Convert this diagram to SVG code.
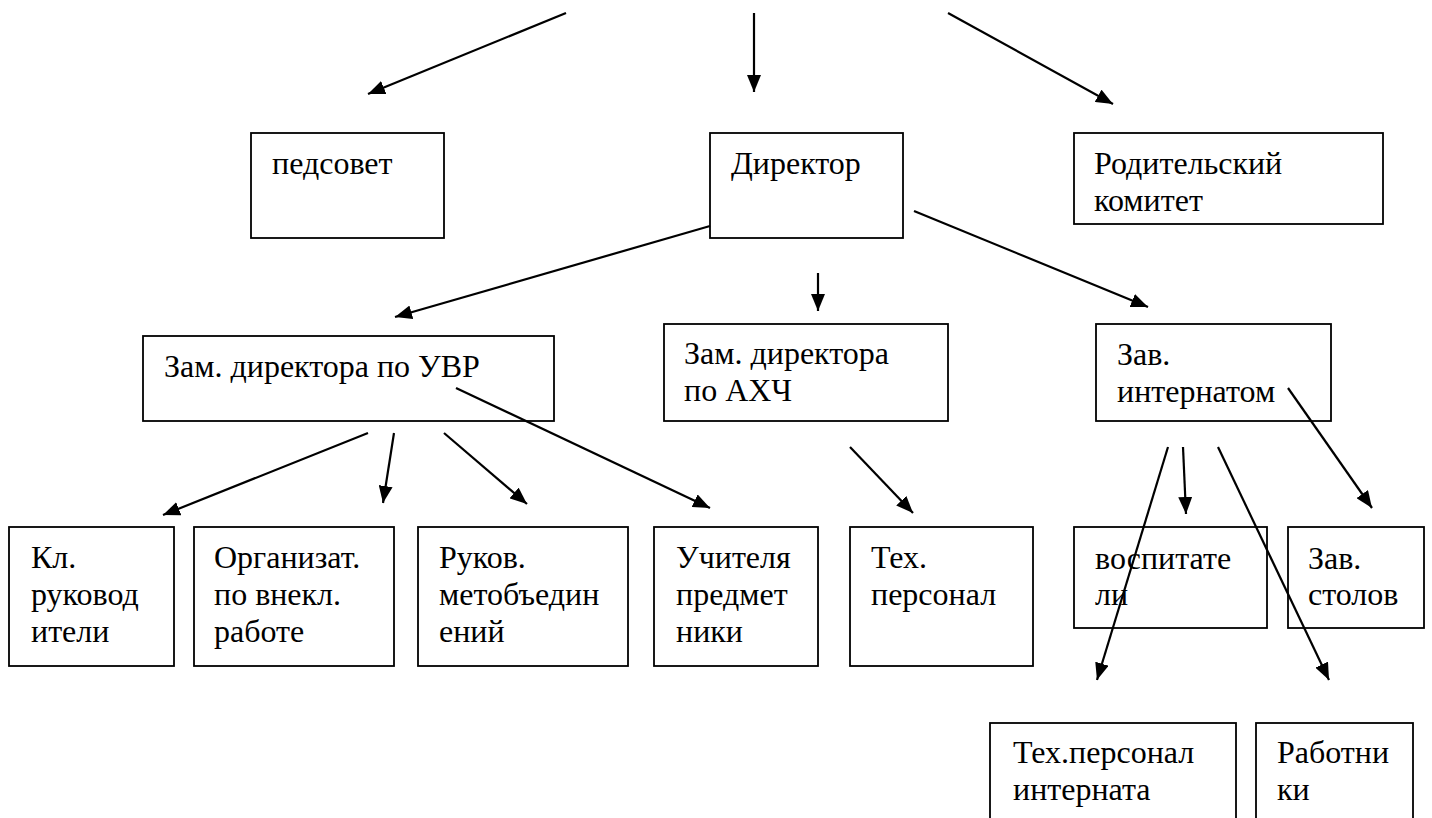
<svg xmlns="http://www.w3.org/2000/svg" width="1432" height="818" viewBox="0 0 1432 818">
<style>
.box{fill:#fff;stroke:#000;stroke-width:1.8}
.t{font-family:"Liberation Serif","Times New Roman",serif;font-size:32px;fill:#000}
.c{stroke:#000;stroke-width:2.2;fill:none;marker-end:url(#ah)}
</style>
<defs>
<marker id="ah" markerUnits="userSpaceOnUse" markerWidth="18" markerHeight="14" refX="17" refY="7" orient="auto" viewBox="0 0 18 14">
<path d="M0,0 L17,7 L0,14 z" fill="#000"/>
</marker>
</defs>
<rect width="1432" height="818" fill="#fff"/>
<g id="n-pedsovet"><rect class="box" x="251" y="133" width="193" height="105"/><text class="t" x="272" y="174">педсовет</text></g>
<g id="n-director"><rect class="box" x="710" y="133" width="193" height="105"/><text class="t" x="731" y="174">Директор</text></g>
<g id="n-parents"><rect class="box" x="1074" y="133" width="309" height="91"/><text class="t" x="1094" y="174">Родительский</text><text class="t" x="1094" y="211">комитет</text></g>
<g id="n-uvr"><rect class="box" x="143" y="336" width="411" height="85"/><text class="t" x="164" y="377">Зам. директора по УВР</text></g>
<g id="n-ahch"><rect class="box" x="664" y="324" width="284" height="97"/><text class="t" x="684" y="364">Зам. директора</text><text class="t" x="684" y="401">по АХЧ</text></g>
<g id="n-internat"><rect class="box" x="1096" y="324" width="235" height="97"/><text class="t" x="1117" y="365">Зав.</text><text class="t" x="1117" y="402">интернатом</text></g>
<g id="n-kl"><rect class="box" x="9" y="527" width="165" height="139"/><text class="t" x="31" y="568">Кл.</text><text class="t" x="31" y="605">руковод</text><text class="t" x="31" y="642">ители</text></g>
<g id="n-org"><rect class="box" x="194" y="527" width="200" height="139"/><text class="t" x="214" y="568">Организат.</text><text class="t" x="214" y="605">по внекл.</text><text class="t" x="214" y="642">работе</text></g>
<g id="n-ruk"><rect class="box" x="418" y="527" width="210" height="139"/><text class="t" x="439" y="568">Руков.</text><text class="t" x="439" y="605">метобъедин</text><text class="t" x="439" y="642">ений</text></g>
<g id="n-uchit"><rect class="box" x="654" y="527" width="164" height="139"/><text class="t" x="676" y="568">Учителя</text><text class="t" x="676" y="605">предмет</text><text class="t" x="676" y="642">ники</text></g>
<g id="n-tech"><rect class="box" x="850" y="527" width="183" height="139"/><text class="t" x="871" y="568">Тех.</text><text class="t" x="871" y="605">персонал</text></g>
<g id="n-vosp"><rect class="box" x="1074" y="527" width="193" height="101"/><text class="t" x="1095" y="569">воспитате</text><text class="t" x="1095" y="605">ли</text></g>
<g id="n-stol"><rect class="box" x="1288" y="527" width="136" height="101"/><text class="t" x="1308" y="569">Зав.</text><text class="t" x="1308" y="605">столов</text></g>
<g id="n-techint"><rect class="box" x="990" y="723" width="246" height="130"/><text class="t" x="1013" y="763">Тех.персонал</text><text class="t" x="1013" y="800">интерната</text></g>
<g id="n-rab"><rect class="box" x="1256" y="723" width="157" height="130"/><text class="t" x="1277" y="763">Работни</text><text class="t" x="1277" y="800">ки</text></g>
<g id="connectors">
<line class="c" x1="566" y1="13" x2="368" y2="94"/>
<line class="c" x1="754" y1="13" x2="754" y2="92"/>
<line class="c" x1="948" y1="13" x2="1113" y2="104"/>
<line class="c" x1="710" y1="226" x2="395" y2="317"/>
<line class="c" x1="818" y1="273" x2="818" y2="311"/>
<line class="c" x1="914" y1="211" x2="1148" y2="307"/>
<line class="c" x1="368" y1="433" x2="163" y2="515"/>
<line class="c" x1="394" y1="433" x2="383" y2="503"/>
<line class="c" x1="444" y1="433" x2="527" y2="504"/>
<line class="c" x1="456" y1="388" x2="710" y2="508"/>
<line class="c" x1="850" y1="447" x2="913" y2="513"/>
<line class="c" x1="1168" y1="447" x2="1097" y2="680"/>
<line class="c" x1="1183" y1="447" x2="1186" y2="514"/>
<line class="c" x1="1218" y1="447" x2="1329" y2="680"/>
<line class="c" x1="1288" y1="388" x2="1372" y2="508"/>
</g>
</svg>
